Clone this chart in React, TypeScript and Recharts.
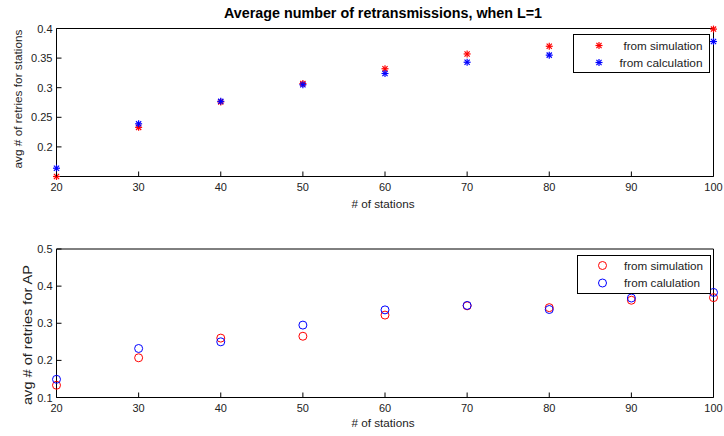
import React from 'react';
import { ScatterChart, Scatter, XAxis, YAxis, Legend } from 'recharts';

// ---- data ----
const stations = [20, 30, 40, 50, 60, 70, 80, 90, 100];
const staSim = [0.150, 0.233, 0.276, 0.307, 0.332, 0.357, 0.370, 0.385, 0.399];
const staCalc = [0.164, 0.239, 0.277, 0.305, 0.324, 0.343, 0.355, 0.367, 0.378];
const apSim = [0.133, 0.207, 0.260, 0.265, 0.322, 0.347, 0.342, 0.362, 0.369];
const apCalc = [0.149, 0.232, 0.250, 0.295, 0.336, 0.348, 0.337, 0.368, 0.383];

const xTicks = [20, 30, 40, 50, 60, 70, 80, 90, 100];
const staTicks = [0.2, 0.25, 0.3, 0.35, 0.4];
const apTicks = [0.1, 0.2, 0.3, 0.4, 0.5];

const titleText = 'Average number of retransmissions, when L=1';
const xLabelText = '# of stations';
const yLabelTop = 'avg # of retries for stations';
const yLabelBottom = 'avg # of retries for AP';
const legendTop = ['from simulation', 'from calculation'];
const legendBottom = ['from simulation', 'from calulation'];

const FONT = '"Liberation Sans", Arial, Helvetica, sans-serif';
const RED = '#ff0000';
const BLUE = '#0000ff';
const AXIS = '#000000';

const toPoints = (ys: number[]) => stations.map((x, i) => ({ x, y: ys[i] }));

// ---- markers ----
const StarMark = ({ cx, cy, color }: { cx: number; cy: number; color: string }) => {
  const s = 3.5;
  const d = 2.6;
  return (
    <g stroke={color} strokeWidth={1.2}>
      <line x1={cx - s} y1={cy} x2={cx + s} y2={cy} />
      <line x1={cx} y1={cy - s} x2={cx} y2={cy + s} />
      <line x1={cx - d} y1={cy - d} x2={cx + d} y2={cy + d} />
      <line x1={cx - d} y1={cy + d} x2={cx + d} y2={cy - d} />
    </g>
  );
};
const CircleMark = ({ cx, cy, color }: { cx: number; cy: number; color: string }) => (
  <circle cx={cx} cy={cy} r={4} fill="none" stroke={color} strokeWidth={1} />
);

const starShape = (color: string) => (p: any) => <StarMark cx={p.cx} cy={p.cy} color={color} />;
const circleShape = (color: string) => (p: any) => <CircleMark cx={p.cx} cy={p.cy} color={color} />;

// ---- ticks (inward, MATLAB style) ----
const BottomTick = (p: any) => (
  <g>
    <line x1={p.x} y1={p.y} x2={p.x} y2={p.y - 5} stroke={AXIS} />
    <text x={p.x} y={p.y + 14} textAnchor="middle" fontSize={11} fontFamily={FONT} fill="#222">
      {p.payload.value}
    </text>
  </g>
);
const TopTick = (p: any) => <line x1={p.x} y1={p.y} x2={p.x} y2={p.y + 5} stroke={AXIS} />;
const LeftTick = (p: any) => (
  <g>
    <line x1={p.x} y1={p.y} x2={p.x + 5} y2={p.y} stroke={AXIS} />
    <text x={p.x - 4} y={p.y + 4} textAnchor="end" fontSize={11} fontFamily={FONT} fill="#222">
      {p.payload.value}
    </text>
  </g>
);
const RightTick = (p: any) => <line x1={p.x} y1={p.y} x2={p.x - 5} y2={p.y} stroke={AXIS} />;

// ---- legends ----
const TopLegendBox = () => (
  <svg width={137} height={39} style={{ display: 'block' }}>
    <rect x={0.5} y={0.5} width={136} height={38} fill="#fff" stroke="#000" />
    <StarMark cx={26} cy={11.5} color={RED} />
    <StarMark cx={26} cy={28.5} color={BLUE} />
    <text x={129.5} y={15.5} textAnchor="end" fontSize={11.5} fontFamily={FONT} fill="#222" textLength={79} lengthAdjust="spacingAndGlyphs">
      {legendTop[0]}
    </text>
    <text x={129.5} y={32.5} textAnchor="end" fontSize={11.5} fontFamily={FONT} fill="#222" textLength={83} lengthAdjust="spacingAndGlyphs">
      {legendTop[1]}
    </text>
  </svg>
);
const BottomLegendBox = () => (
  <svg width={134} height={39} style={{ display: 'block' }}>
    <rect x={0.5} y={0.5} width={133} height={38} fill="#fff" stroke="#000" />
    <CircleMark cx={25.5} cy={10.5} color={RED} />
    <CircleMark cx={25.5} cy={28} color={BLUE} />
    <text x={47} y={14.5} fontSize={11.5} fontFamily={FONT} fill="#222" textLength={79} lengthAdjust="spacingAndGlyphs">
      {legendBottom[0]}
    </text>
    <text x={47} y={32} fontSize={11.5} fontFamily={FONT} fill="#222" textLength={76} lengthAdjust="spacingAndGlyphs">
      {legendBottom[1]}
    </text>
  </svg>
);

const axisCommon = {
  type: 'number' as const,
  tickSize: 0,
  tickMargin: 0,
  interval: 0 as const,
  tickLine: false,
  axisLine: { stroke: AXIS, strokeWidth: 1 },
};

export default function App() {
  return (
    <div style={{ position: 'absolute', left: 0, top: 0, width: 724, height: 436, background: '#fff', fontFamily: FONT }}>
      {/* top subplot */}
      <div style={{ position: 'absolute', left: 0, top: 0 }}>
        <ScatterChart width={724} height={215} margin={{ top: 0.5, right: 0.5, bottom: 0.5, left: 0.5 }}>
          <XAxis {...axisCommon} xAxisId="b" dataKey="x" domain={[20, 100]} ticks={xTicks} orientation="bottom" height={38} tick={BottomTick} />
          <XAxis {...axisCommon} xAxisId="t" dataKey="x" domain={[20, 100]} ticks={xTicks} orientation="top" height={28} tick={TopTick} />
          <YAxis {...axisCommon} yAxisId="l" dataKey="y" domain={[0.15, 0.4]} ticks={staTicks} orientation="left" width={56} tick={LeftTick} />
          <YAxis {...axisCommon} yAxisId="r" dataKey="y" domain={[0.15, 0.4]} ticks={staTicks} orientation="right" width={10} tick={RightTick} />
          <Scatter name={legendTop[0]} xAxisId="b" yAxisId="l" data={toPoints(staSim)} fill={RED} shape={starShape(RED)} isAnimationActive={false} />
          <Scatter name={legendTop[1]} xAxisId="b" yAxisId="l" data={toPoints(staCalc)} fill={BLUE} shape={starShape(BLUE)} isAnimationActive={false} />
          <Legend layout="vertical" align="center" verticalAlign="middle" width={137} height={39}
            wrapperStyle={{ left: 572.5, top: 33.5, width: 137, height: 39 }} content={() => <TopLegendBox />} />
        </ScatterChart>
      </div>

      {/* bottom subplot */}
      <div style={{ position: 'absolute', left: 0, top: 215 }}>
        <ScatterChart width={724} height={221} margin={{ top: 0.5, right: 0.5, bottom: 0.5, left: 0.5 }}>
          <XAxis {...axisCommon} xAxisId="b" dataKey="x" domain={[20, 100]} ticks={xTicks} orientation="bottom" height={38} tick={BottomTick} />
          <XAxis {...axisCommon} xAxisId="t" dataKey="x" domain={[20, 100]} ticks={xTicks} orientation="top" height={33.5} tick={TopTick} />
          <YAxis {...axisCommon} yAxisId="l" dataKey="y" domain={[0.1, 0.5]} ticks={apTicks} orientation="left" width={56} tick={LeftTick} />
          <YAxis {...axisCommon} yAxisId="r" dataKey="y" domain={[0.1, 0.5]} ticks={apTicks} orientation="right" width={10} tick={RightTick} />
          <Scatter name={legendBottom[0]} xAxisId="b" yAxisId="l" data={toPoints(apSim)} fill={RED} shape={circleShape(RED)} isAnimationActive={false} />
          <Scatter name={legendBottom[1]} xAxisId="b" yAxisId="l" data={toPoints(apCalc)} fill={BLUE} shape={circleShape(BLUE)} isAnimationActive={false} />
          <Legend layout="vertical" align="center" verticalAlign="middle" width={134} height={39}
            wrapperStyle={{ left: 576.5, top: 40, width: 134, height: 39 }} content={() => <BottomLegendBox />} />
        </ScatterChart>
      </div>

      {/* titles and axis labels */}
      <svg width={724} height={436} style={{ position: 'absolute', left: 0, top: 0, pointerEvents: 'none' }}>
        <text x={383} y={18} textAnchor="middle" fontSize={14} fontWeight="bold" fontFamily={FONT} fill="#000" textLength={318} lengthAdjust="spacingAndGlyphs">
          {titleText}
        </text>
        <text x={383} y={207.5} textAnchor="middle" fontSize={11.5} fontFamily={FONT} fill="#222" textLength={63} lengthAdjust="spacingAndGlyphs">
          {xLabelText}
        </text>
        <text x={383} y={427} textAnchor="middle" fontSize={11.5} fontFamily={FONT} fill="#222" textLength={63} lengthAdjust="spacingAndGlyphs">
          {xLabelText}
        </text>
        <text x={22} y={99} transform="rotate(-90 22 99)" textAnchor="middle" fontSize={11.5} fontFamily={FONT} fill="#222" textLength={139} lengthAdjust="spacingAndGlyphs">
          {yLabelTop}
        </text>
        <text x={31.5} y={335} transform="rotate(-90 31.5 335)" textAnchor="middle" fontSize={13.5} fontFamily={FONT} fill="#222" textLength={140} lengthAdjust="spacingAndGlyphs">
          {yLabelBottom}
        </text>
      </svg>
    </div>
  );
}
